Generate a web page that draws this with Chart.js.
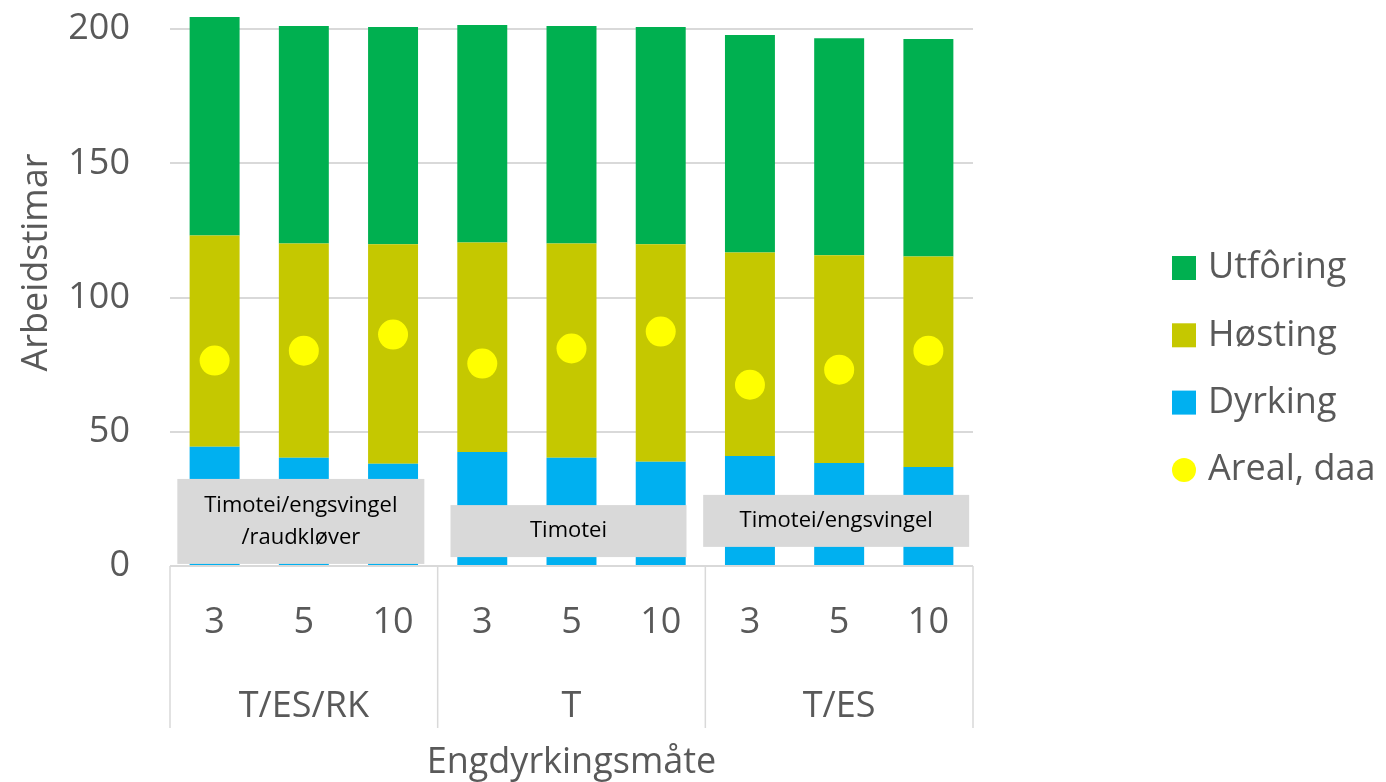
<!DOCTYPE html>
<html>
<head>
<meta charset="utf-8">
<script src="https://cdn.jsdelivr.net/npm/chart.js@4"></script>
<style>
  body { margin: 0; background: #fff; }
  #wrap { width: 1386px; height: 782px; }
</style>
</head>
<body>
<div id="wrap"><canvas id="myChart" width="1386" height="782"></canvas></div>
<script>
//data
const categories = ["3", "5", "10", "3", "5", "10", "3", "5", "10"];
const groups = ["T/ES/RK", "T", "T/ES"];
const groupNotes = [["Timotei/engsvingel", "/raudkløver"], ["Timotei"], ["Timotei/engsvingel"]];
const noteLevels = [16.6, 13, 16.8];
const dyrking = [44.4, 40.3, 38.1, 42.5, 40.3, 38.8, 41.0, 38.4, 36.9];
const hosting = [78.7, 79.8, 81.7, 78.0, 79.8, 81.0, 75.8, 77.3, 78.4];
const utforing = [81.4, 81.0, 80.9, 81.0, 81.0, 80.9, 81.0, 80.9, 81.0];
const areal = [76.5, 80.2, 86.2, 75.4, 81.0, 87.3, 67.5, 73.1, 80.2];
const yTicks = [0, 50, 100, 150, 200];
const yTitle = "Arbeidstimar";

const ctx = document.getElementById("myChart");
const font = "'Open Sans', 'Noto Sans', sans-serif";
const grey = "#595959";
const lineGrey = "#d9d9d9";

//group labels, separators, grey note boxes, y title and legend
const extras = {
  id: "extras",
  afterDatasetsDraw(chart) {
    const c = chart.ctx;
    const x = chart.scales.x;
    const y = chart.scales.y;
    const area = chart.chartArea;
    c.save();
    // separators under the axis
    c.strokeStyle = lineGrey;
    c.lineWidth = 1.5;
    const edges = [area.left];
    for (let g = 1; g < groups.length; g++) {
      edges.push((x.getPixelForValue(g * 3 - 1) + x.getPixelForValue(g * 3)) / 2);
    }
    edges.push(area.right);
    edges.forEach((ex) => {
      c.beginPath();
      c.moveTo(ex, area.bottom);
      c.lineTo(ex, area.bottom + 162);
      c.stroke();
    });
    // group names
    c.fillStyle = grey;
    c.font = "36px " + font;
    c.textAlign = "center";
    c.textBaseline = "middle";
    groups.forEach((g, i) => {
      c.fillText(g, x.getPixelForValue(i * 3 + 1), area.bottom + 141);
    });
    // y title, placed a bit above the middle like the original
    c.save();
    c.translate(37, y.getPixelForValue(113));
    c.rotate(-Math.PI / 2);
    c.fillText(yTitle, 0, 0);
    c.restore();
    // note boxes
    const boxW = [247, 236, 266];
    c.font = "22px " + font;
    groupNotes.forEach((lines, i) => {
      const cx = x.getPixelForValue(i * 3 + 1) - 3;
      const cy = y.getPixelForValue(noteLevels[i]);
      const h = lines.length > 1 ? 85 : 52;
      c.fillStyle = lineGrey;
      c.fillRect(cx - boxW[i] / 2, cy - h / 2, boxW[i], h);
      c.fillStyle = "#000";
      lines.forEach((t, k) => {
        c.fillText(t, cx, cy + (k - (lines.length - 1) / 2) * 32);
      });
    });
    // legend
    const items = [chart.data.datasets[2], chart.data.datasets[1], chart.data.datasets[0], chart.data.datasets[3]];
    c.font = "36px " + font;
    c.textAlign = "left";
    items.forEach((d, i) => {
      const ly = 268 + i * 67.3;
      c.fillStyle = d.backgroundColor;
      if (d.type === "line") {
        c.beginPath();
        c.arc(1184, ly, 12, 0, Math.PI * 2);
        c.fill();
      } else {
        c.fillRect(1172, ly - 12, 24, 24);
      }
      c.fillStyle = grey;
      c.fillText(d.label, 1208, ly);
    });
    c.restore();
  },
};

const myChart = new Chart(ctx, {
  type: "bar",
  data: {
    labels: categories,
    datasets: [
      { label: "Dyrking", data: dyrking, backgroundColor: "#00b0f0", order: 1, clip: false },
      { label: "Høsting", data: hosting, backgroundColor: "#c5c800", order: 1, clip: false },
      { label: "Utfôring", data: utforing, backgroundColor: "#00b050", order: 1, clip: false },
      {
        label: "Areal, daa",
        type: "line",
        data: areal,
        showLine: false,
        backgroundColor: "#ffff00",
        borderColor: "#ffff00",
        pointRadius: 15,
        pointBorderWidth: 0,
        order: 0,
        stack: "points",
        clip: false,
      },
    ],
  },
  options: {
    responsive: false,
    animation: false,
    layout: { autoPadding: false, padding: { top: 29, right: 413, left: 0, bottom: 0 } },
    datasets: { bar: { barPercentage: 0.56, categoryPercentage: 1 } },
    plugins: { legend: { display: false }, tooltip: { enabled: false } },
    scales: {
      x: {
        stacked: true,
        afterFit: (scale) => {
          scale.height = 216;
        },
        grid: { display: false, drawTicks: false },
        border: { display: false },
        ticks: { color: grey, font: { family: font, size: 36 }, padding: 35, maxRotation: 0 },
        title: {
          display: true,
          text: "Engdyrkingsmåte",
          color: grey,
          font: { family: font, size: 36 },
          padding: { top: 97, bottom: -2 },
        },
      },
      y: {
        stacked: true,
        min: 0,
        max: 200,
        afterBuildTicks: (scale) => {
          scale.ticks = yTicks.map((v) => ({ value: v }));
        },
        afterFit: (scale) => {
          scale.width = 170;
          scale.paddingTop = 0;
          scale.paddingBottom = 0;
        },
        grid: { color: lineGrey, lineWidth: 2, drawTicks: false },
        border: { display: false },
        ticks: { color: grey, font: { family: font, size: 36 }, padding: 40 },
      },
    },
  },
  plugins: [extras],
});
</script>
</body>
</html>
